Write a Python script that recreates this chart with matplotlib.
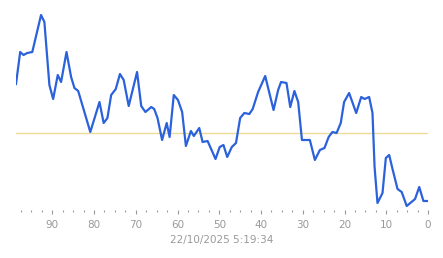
import numpy as np
import matplotlib.pyplot as plt
from matplotlib.ticker import MultipleLocator

# seconds ago (x) and reading (y)
secs = [98.7, 97.7, 96.9, 96.0, 94.8, 92.7, 91.9, 90.7, 89.8, 88.7, 87.9, 86.6,
        85.5, 84.7, 83.8, 80.9, 78.7, 77.7, 76.8, 75.9, 74.8, 73.8, 72.9, 71.7,
        69.7, 68.7, 67.7, 66.3, 65.6, 64.8, 63.7, 62.6, 61.9, 60.9, 59.9, 58.9,
        58.0, 56.8, 56.1, 54.8, 54.0, 52.8, 50.9, 49.9, 49.0, 48.1, 47.0, 46.0,
        45.0, 44.0, 42.8, 42.0, 40.7, 39.0, 37.0, 35.9, 35.2, 33.9, 33.0, 32.0,
        31.1, 30.2, 28.3, 27.1, 25.9, 24.8, 23.8, 22.9, 21.9, 20.9, 20.1, 18.9,
        17.2, 16.0, 15.2, 14.1, 13.3, 12.8, 12.1, 10.9, 10.1, 9.3, 8.5, 7.3,
        6.3, 5.1, 3.1, 2.1, 1.1, 0.0]
vals = [126, 158, 155, 157, 158, 195, 188, 125, 111, 135, 128, 158,
        133, 122, 119, 78, 108, 87, 92, 115, 121, 136, 130, 104,
        138, 104, 98, 103, 101, 92, 70, 87, 73, 115, 110, 98,
        64, 79, 74, 82, 68, 69, 51, 63, 65, 53, 63, 67,
        92, 97, 96, 101, 118, 134, 100, 120, 128, 127, 103, 119,
        108, 70, 70, 50, 60, 62, 73, 78, 77, 87, 108, 117,
        97, 113, 111, 113, 97, 43, 7, 17, 52, 55, 41, 21,
        18, 4, 11, 23, 9, 9]
avg = 77
stamp = "22/10/2025 5:19:34"

fig = plt.figure(figsize=(4.43, 2.58), dpi=100)
ax = fig.add_axes([16/443, 48/258, 412/443, 200/258])

ax.axhline(avg, color='#eedc96', lw=1.0, zorder=1)
ax.plot(secs, vals, color='#2b62dc', lw=1.6, zorder=2)

ax.set_xlim(98.7, 0)
ax.set_ylim(0, 200)
for s in ax.spines.values():
    s.set_visible(False)
ax.set_yticks([])
ax.xaxis.set_major_locator(MultipleLocator(10))
ax.xaxis.set_minor_locator(MultipleLocator(2.5))
ax.tick_params(axis='x', which='major', length=3, width=0.8, color='#999999',
               labelsize=7.5, labelcolor='#999999', pad=4)
ax.tick_params(axis='x', which='minor', length=1.5, width=0.8, color='#999999')
ax.set_xlabel(stamp, fontsize=7.5, color='#999999', labelpad=4)

plt.savefig('out.png', dpi=100)
